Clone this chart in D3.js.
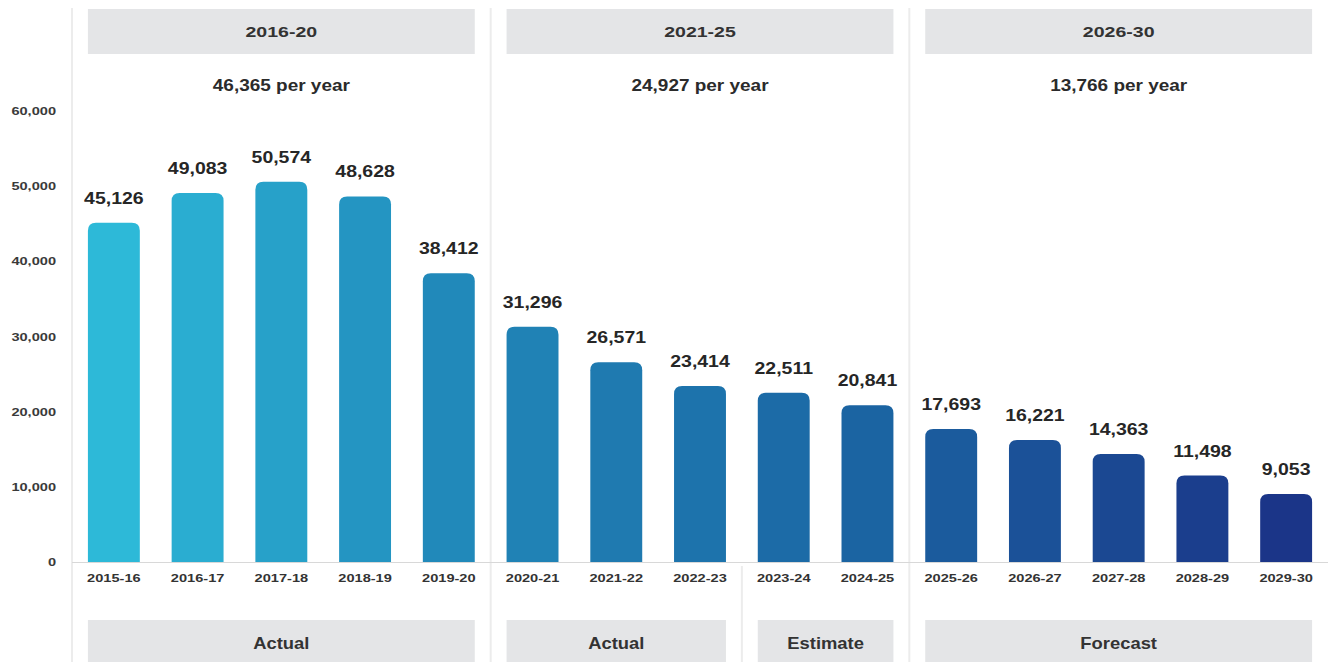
<!DOCTYPE html>
<html>
<head>
<meta charset="utf-8">
<script src="https://cdn.jsdelivr.net/npm/d3@7"></script>
<style>
  html, body { margin: 0; padding: 0; background: #fff; }
  svg { display: block; }
  text { font-family: "Liberation Sans", Arial, Helvetica, sans-serif; }
</style>
</head>
<body>
<svg id="chart" width="1328" height="662"></svg>
<script>
// Financial years shown on the x axis
const categories = ["2015-16", "2016-17", "2017-18", "2018-19", "2019-20",
                    "2020-21", "2021-22", "2022-23", "2023-24", "2024-25",
                    "2025-26", "2026-27", "2027-28", "2028-29", "2029-30"];
// Yearly totals
const values = [45126, 49083, 50574, 48628, 38412,
                31296, 26571, 23414, 22511, 20841,
                17693, 16221, 14363, 11498, 9053];
// Y axis ticks
const yTicks = [0, 10000, 20000, 30000, 40000, 50000, 60000];

// Five-year periods (header row) and their yearly averages
const periodNames = ["2016-20", "2021-25", "2026-30"];
const periodAverages = [46365, 24927, 13766];
const periodFirst = ["2015-16", "2020-21", "2025-26"];
const periodLast  = ["2019-20", "2024-25", "2029-30"];

// Status of the figures (footer row)
const statusNames = ["Actual", "Actual", "Estimate", "Forecast"];
const statusFirst = ["2015-16", "2020-21", "2023-24", "2025-26"];
const statusLast  = ["2019-20", "2022-23", "2024-25", "2029-30"];

const W = 1328, H = 662;
const plotLeft = 72, plotRight = 1328;
const baseY = 562, topY = 111;
const fmt = d3.format(",");

const svg = d3.select("#chart");

const x = d3.scaleBand()
  .domain(categories)
  .range([plotLeft, plotRight])
  .paddingInner(0.38)
  .paddingOuter(0.19);

const y = d3.scaleLinear()
  .domain([0, 60000])
  .range([baseY, topY]);

const color = d3.scaleLinear()
  .domain([0, 4, 9, 14])
  .range(["#2db9d8", "#2189ba", "#1b64a2", "#1b3588"])
  .interpolate(d3.interpolateRgb);

const step = x.step();
const gapHalf = step * x.paddingInner() / 2;
const leftEdge = c => x(c) - gapHalf;

// Horizontally widened text helper
function label(g, tx, ty, str, opts) {
  return g.append("text")
    .attr("transform", `translate(${tx},${ty}) scale(${opts.sx || 1.25},1)`)
    .attr("text-anchor", opts.anchor || "middle")
    .attr("font-size", opts.size)
    .attr("font-weight", opts.weight || "bold")
    .attr("fill", opts.fill || "#2b2b2b")
    .attr("dy", opts.dy || null)
    .text(str);
}

// Vertical separators: full height at period starts, footer-only at other status starts
const sep = svg.append("g").attr("stroke", "#ececec").attr("stroke-width", 2);
periodFirst.forEach(c => {
  sep.append("line")
    .attr("x1", leftEdge(c)).attr("x2", leftEdge(c))
    .attr("y1", 8).attr("y2", H);
});
statusFirst.filter(c => !periodFirst.includes(c)).forEach(c => {
  sep.append("line")
    .attr("x1", leftEdge(c)).attr("x2", leftEdge(c))
    .attr("y1", baseY + 4).attr("y2", H);
});

// Header boxes with period names and averages
const head = svg.append("g");
periodNames.forEach((name, i) => {
  const x0 = x(periodFirst[i]);
  const x1 = x(periodLast[i]) + x.bandwidth();
  head.append("rect")
    .attr("x", x0).attr("y", 9)
    .attr("width", x1 - x0).attr("height", 45)
    .attr("fill", "#e4e5e7");
  label(head, (x0 + x1) / 2, 37, name, { size: 15.5, sx: 1.26, fill: "#333" });
  label(head, (x0 + x1) / 2, 91, fmt(periodAverages[i]) + " per year", { size: 16.5, sx: 1.15, fill: "#2b2b2b" });
});

// Footer boxes with status names
const foot = svg.append("g");
statusNames.forEach((name, i) => {
  const x0 = x(statusFirst[i]);
  const x1 = x(statusLast[i]) + x.bandwidth();
  foot.append("rect")
    .attr("x", x0).attr("y", 620)
    .attr("width", x1 - x0).attr("height", H - 620)
    .attr("fill", "#e4e5e7");
  label(foot, (x0 + x1) / 2, 649, name, { size: 16, sx: 1.15, fill: "#333" });
});

// Y axis labels
const yAxis = svg.append("g");
yTicks.forEach(t => {
  label(yAxis, 56, y(t), fmt(t), { size: 11.5, sx: 1.27, anchor: "end", dy: "0.35em", fill: "#3a3a3a" });
});

// Baseline
svg.append("line")
  .attr("x1", plotLeft).attr("x2", plotRight)
  .attr("y1", baseY + 0.5).attr("y2", baseY + 0.5)
  .attr("stroke", "#d8d8d8").attr("stroke-width", 1);

// Bars with rounded top corners
const r = 8;
function barPath(x0, w, yTop, yBot) {
  const rr = Math.min(r, (yBot - yTop), w / 2);
  return `M${x0},${yBot}V${yTop + rr}Q${x0},${yTop} ${x0 + rr},${yTop}` +
         `H${x0 + w - rr}Q${x0 + w},${yTop} ${x0 + w},${yTop + rr}V${yBot}Z`;
}

const bars = svg.append("g");
categories.forEach((c, i) => {
  bars.append("path")
    .attr("d", barPath(x(c), x.bandwidth(), y(values[i]), y(0)))
    .attr("fill", color(i));
  label(bars, x(c) + x.bandwidth() / 2, y(values[i]) - 19, fmt(values[i]), { size: 16.5, sx: 1.18, fill: "#262626" });
  label(bars, x(c) + x.bandwidth() / 2, baseY + 20, c, { size: 11.5, sx: 1.27, fill: "#333" });
});
</script>
</body>
</html>
